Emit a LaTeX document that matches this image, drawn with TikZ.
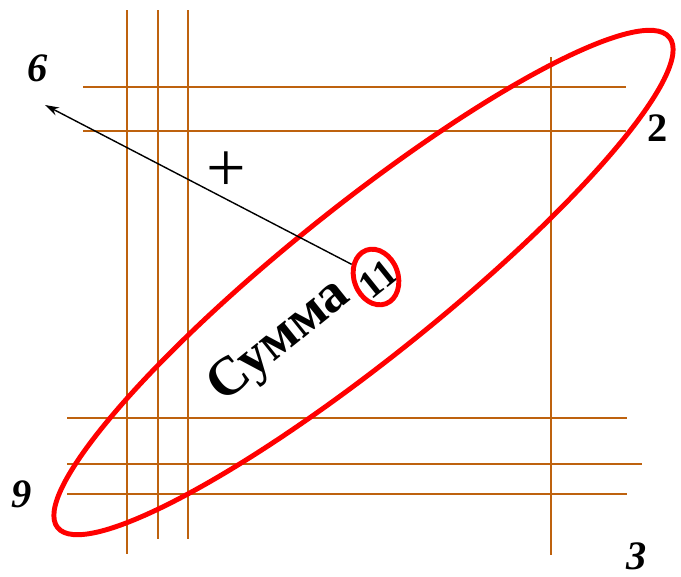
\documentclass[tikz,border=0pt]{standalone}
\usepackage{fontspec}
\setmainfont{Liberation Serif}
\usetikzlibrary{arrows.meta,shapes.geometric}

\definecolor{gridbrown}{RGB}{190,98,14}
\tikzset{
  gridline/.style={gridbrown, line width=1.1pt},
  corner/.style={font=\fontsize{23}{23}\selectfont\bfseries\itshape},
  oval/.style={red, line width=2.8pt}
}

\begin{document}
\begin{tikzpicture}[x=0.02cm, y=-0.02cm]
    \useasboundingbox (0,0) rectangle (681,576);

    % Grid lines
    \foreach \xx/\ya/\yb in {127/10/554, 158/10/539, 188/10/539, 551/57/555}
        \draw[gridline] (\xx,\ya) -- (\xx,\yb);
    \foreach \yy/\xa/\xb in {87/83/626, 131/83/626, 418/67/627, 464/67/642, 494/67/627}
        \draw[gridline] (\xa,\yy) -- (\xb,\yy);

    % Big oval
    \draw[oval, rotate around={38.7:(363.5,282.5)}] (363.5,282.5) ellipse [x radius=392, y radius=76];

    % Sum label
    \node[rotate=38.7, font=\fontsize{31}{31}\selectfont\bfseries] (summa) at (280,342) {Сумма};
    \node[rotate=38.7, font=\fontsize{22}{22}\selectfont\bfseries] (num) at (378,279) {11};
    \node[oval, ellipse, draw, rotate=20, minimum width=0.88cm, minimum height=1.14cm, inner sep=0pt] (ring) at (376,277) {};

    % Arrow to 6
    \coordinate (tip) at (45,105);
    \draw[line width=0.8pt, -{Stealth[length=8pt, width=5pt]}] (ring) -- (tip);
    \node[font=\fontsize{40}{40}\selectfont] (plus) at (226,172) {+};

    % Corner numbers
    \node[corner] (n6) at (38,68) {6};
    \node[corner, font=\fontsize{23}{23}\selectfont\bfseries] (n2) at (658,128) {2};
    \node[corner] (n9) at (22,494) {9};
    \node[corner] (n3) at (637,556) {3};
\end{tikzpicture}
\end{document}
